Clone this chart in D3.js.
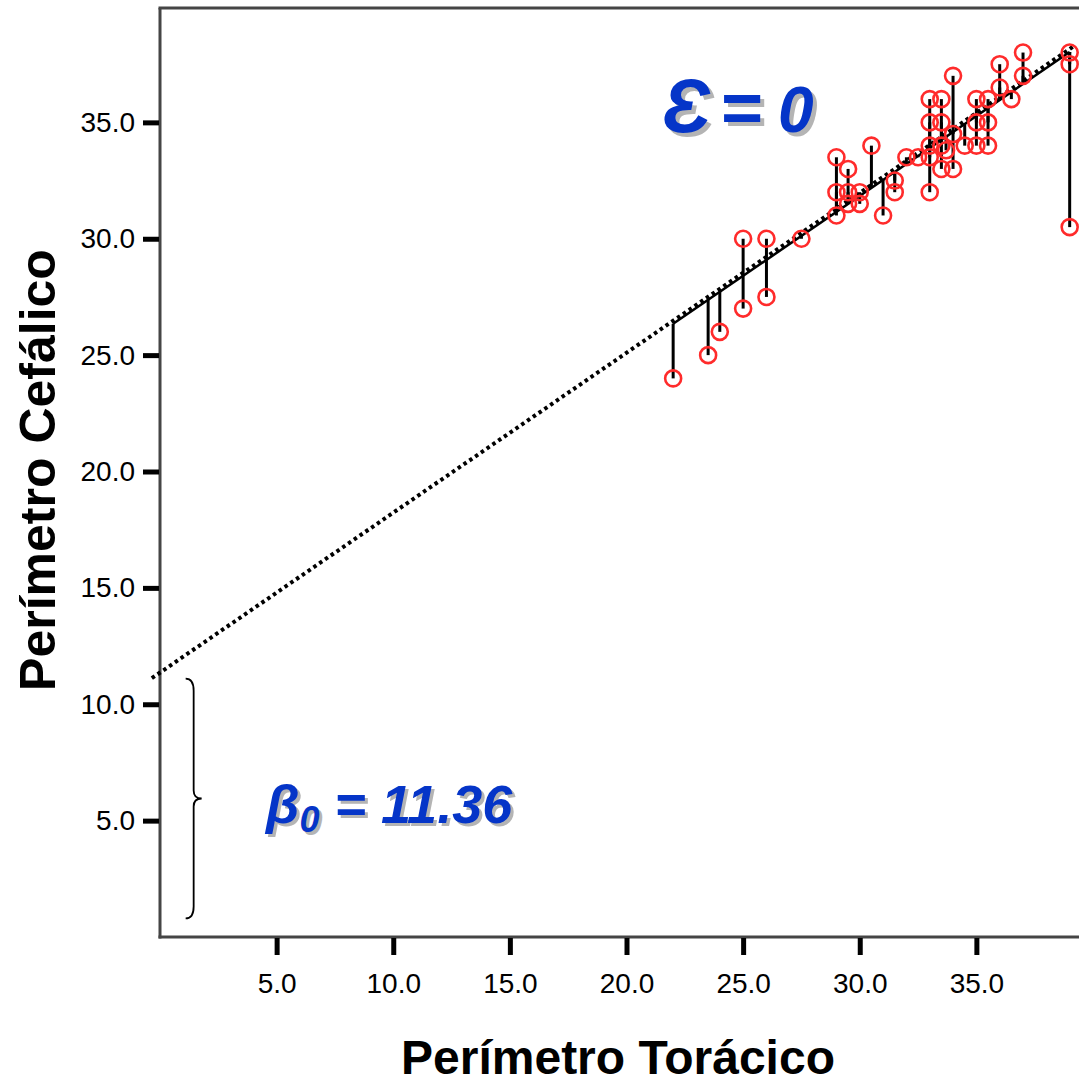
<!DOCTYPE html>
<html>
<head>
<meta charset="utf-8">
<script src="https://cdn.jsdelivr.net/npm/d3@7"></script>
<style>
	body { margin: 0; background: #ffffff; }
	svg text { font-family: 'Liberation Sans', Arial, sans-serif; }
</style>
</head>
<body>
<svg id="chart" width="1079" height="1082"></svg>
<script>
/*global d3*/
'use strict';

// Chest (x) and head (y) circumference of each case
var toracico = [22, 23.5, 24, 25, 25, 26, 26, 27.5,
	29, 29.5, 29, 29.5, 29, 29.5, 30, 30, 30.5, 31, 31.5, 31.5, 32, 32.5,
	33, 33.5, 33, 33.5, 33, 33.5, 33, 33, 33.5, 34, 34, 34, 34.5, 33.7,
	35, 35.5, 35, 35.5, 35, 35.5, 36, 36, 36.5, 37, 37, 39, 39, 39];
var cefalico = [24, 25, 26, 27, 30, 27.5, 30, 30,
	33.5, 33, 32, 32, 31, 31.5, 32, 31.5, 34, 31, 32, 32.5, 33.5, 33.5,
	36, 36, 35, 35, 34, 34, 33.5, 32, 33, 37, 34.5, 33, 34, 33.8,
	36, 36, 35, 35, 34, 34, 37.5, 36.5, 36, 38, 37, 38, 37.5, 30.5];

var x_ticks = [5, 10, 15, 20, 25, 30, 35];
var y_ticks = [5, 10, 15, 20, 25, 30, 35];

// Fitted line: intercept shown on the chart, slope
var beta0 = 11.36;
var beta1 = 0.687;
var fit_range = [-0.35, 39.2];

var x_title = 'Perímetro Torácico';
var y_title = 'Perímetro Cefálico';


//===============================================================
// Draw the chart
//===============================================================

var svg = d3.select('#chart');
var x_scale = d3.scaleLinear().domain([0, 40]).range([160, 1093]);
var y_scale = d3.scaleLinear().domain([0, 40]).range([937, 6]);

var cases = toracico.map(function(t, i) {
	return { x: t, y: cefalico[i], fit: beta0 + beta1 * t };
});

// frame: left axis, bottom axis, top line
var frame_col = '#454545';
svg.append('line').attr('x1', 160).attr('x2', 160).attr('y1', 8).attr('y2', 938.5)
	.attr('stroke', frame_col).attr('stroke-width', 3);
svg.append('line').attr('x1', 158.5).attr('x2', 1079).attr('y1', 937).attr('y2', 937)
	.attr('stroke', frame_col).attr('stroke-width', 3);
svg.append('line').attr('x1', 158.5).attr('x2', 1079).attr('y1', 8).attr('y2', 8)
	.attr('stroke', frame_col).attr('stroke-width', 3);

// axes
var x_axis = d3.axisBottom(x_scale).tickValues(x_ticks).tickSize(17).tickPadding(18)
	.tickFormat(d3.format('.1f'));
var gx = svg.append('g').attr('transform', 'translate(0,938)').call(x_axis);
gx.select('.domain').remove();
gx.selectAll('.tick line').attr('stroke', '#000').attr('stroke-width', 5);
gx.selectAll('.tick text').attr('fill', '#000').attr('font-size', 28)
	.attr('font-family', 'Liberation Sans, Arial, sans-serif');

var y_axis = d3.axisLeft(y_scale).tickValues(y_ticks).tickSize(16).tickPadding(8)
	.tickFormat(d3.format('.1f'));
var gy = svg.append('g').attr('transform', 'translate(159,0)').call(y_axis);
gy.select('.domain').remove();
gy.selectAll('.tick line').attr('stroke', '#000').attr('stroke-width', 5);
gy.selectAll('.tick text').attr('fill', '#000').attr('font-size', 28)
	.attr('font-family', 'Liberation Sans, Arial, sans-serif');

// axis titles
svg.append('text').attr('x', 618).attr('y', 1074).attr('text-anchor', 'middle')
	.attr('font-size', 48).attr('font-weight', 'bold').text(x_title);
svg.append('text').attr('transform', 'translate(55,470) rotate(-90)')
	.attr('text-anchor', 'middle').attr('font-size', 50).attr('font-weight', 'bold')
	.text(y_title);

// regression line, dotted
var fit_line = d3.line()
	.x(function(d) { return x_scale(d); })
	.y(function(d) { return y_scale(beta0 + beta1 * d); });
svg.append('path').datum(fit_range).attr('d', fit_line)
	.attr('stroke', '#000').attr('stroke-width', 4).attr('fill', 'none')
	.attr('stroke-dasharray', '3.5,3.5');

// fitted values joined with a solid line, a bit below the dotted one
var x_ext = d3.extent(toracico);
svg.append('path').datum(x_ext).attr('d', fit_line)
	.attr('transform', 'translate(0,3)')
	.attr('stroke', '#000').attr('stroke-width', 2.5).attr('fill', 'none');

// residuals from each point up or down to the line
svg.selectAll('line.resid').data(cases).enter().append('line')
	.attr('class', 'resid')
	.attr('x1', function(d) { return x_scale(d.x); })
	.attr('x2', function(d) { return x_scale(d.x); })
	.attr('y1', function(d) { return y_scale(d.y); })
	.attr('y2', function(d) { return y_scale(d.fit) + 3; })
	.attr('stroke', '#000').attr('stroke-width', 3);

// the cases
svg.selectAll('circle.case').data(cases).enter().append('circle')
	.attr('class', 'case')
	.attr('cx', function(d) { return x_scale(d.x); })
	.attr('cy', function(d) { return y_scale(d.y); })
	.attr('r', 8)
	.attr('fill', 'none').attr('stroke', '#ff2b2b').attr('stroke-width', 2.6);

// brace marking the intercept
var bx = x_scale(1.1);
var b_top = y_scale(11.1), b_bot = y_scale(0.8), b_mid = (b_top + b_bot) / 2;
var brace = 'M' + bx + ',' + b_top +
	' Q' + (bx + 8) + ',' + b_top + ' ' + (bx + 8) + ',' + (b_top + 12) +
	' L' + (bx + 8) + ',' + (b_mid - 8) +
	' Q' + (bx + 8) + ',' + b_mid + ' ' + (bx + 16) + ',' + b_mid +
	' Q' + (bx + 8) + ',' + b_mid + ' ' + (bx + 8) + ',' + (b_mid + 8) +
	' L' + (bx + 8) + ',' + (b_bot - 12) +
	' Q' + (bx + 8) + ',' + b_bot + ' ' + bx + ',' + b_bot;
svg.append('path').attr('d', brace).attr('fill', 'none')
	.attr('stroke', '#000').attr('stroke-width', 1.8);

// blue labels with a grey shadow
var blue = '#0535c8';
var shadow = '#b4b4b4';

function epsilonLabel(dx, dy, col) {
	var t = svg.append('text').attr('x', 662 + dx).attr('y', 132 + dy)
		.attr('fill', col).attr('font-weight', 'bold').attr('font-style', 'italic');
	t.append('tspan').attr('font-size', 76).text('Ɛ');
	t.append('tspan').attr('font-size', 72).attr('dx', 9).text('=');
	t.append('tspan').attr('font-size', 64).attr('dx', 16).text('0');
}
epsilonLabel(4, 4, shadow);
epsilonLabel(0, 0, blue);

function betaLabel(dx, dy, col) {
	var t = svg.append('text').attr('x', 266 + dx).attr('y', 823 + dy)
		.attr('fill', col).attr('font-weight', 'bold').attr('font-style', 'italic')
		.attr('font-size', 54);
	t.append('tspan').text('β');
	t.append('tspan').attr('font-size', 36).attr('dy', 9).text('0');
	t.append('tspan').attr('dy', -9).text(' = 11.36');
}
betaLabel(3, 3, shadow);
betaLabel(0, 0, blue);
</script>
</body>
</html>
